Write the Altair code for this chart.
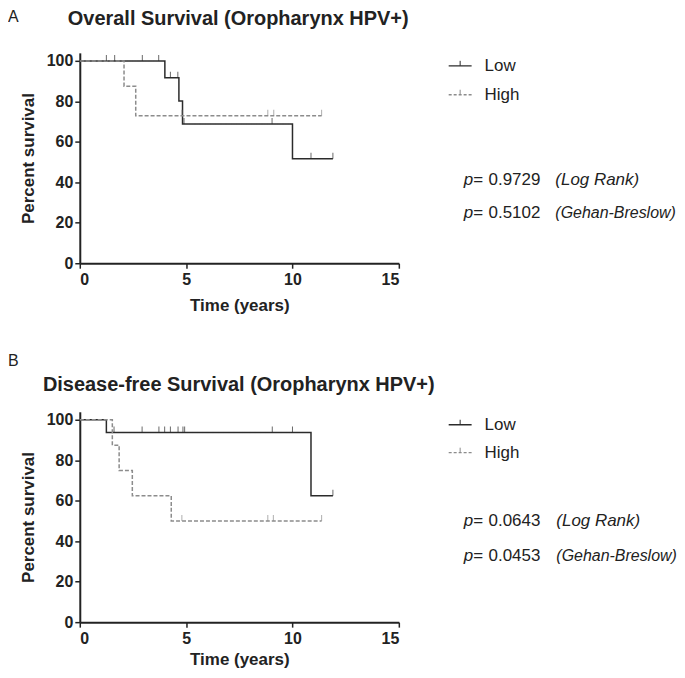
import altair as alt
import pandas as pd

FONT = "Liberation Sans"
INK = "#222222"

# ---------------- Panel A: Overall Survival ----------------
a_low_t = [0, 4.0, 4.66, 4.83, 10.0, 11.9]
a_low_s = [100, 91.7, 80.2, 68.8, 51.6, 51.6]
a_high_t = [0, 2.08, 2.63, 11.37]
a_high_s = [100, 87.5, 72.9, 72.9]
a_low_cens_t = [1.25, 1.64, 2.94, 3.71, 4.26, 4.61, 4.9, 9.04, 10.87, 11.9]
a_low_cens_s = [100, 100, 100, 100, 91.7, 91.7, 68.8, 68.8, 51.6, 51.6]
a_high_cens_t = [4.8, 8.84, 9.12, 11.37]
a_high_cens_s = [72.9, 72.9, 72.9, 72.9]
a_pvals = ["0.9729", "0.5102"]

# ---------------- Panel B: Disease-free Survival ----------------
b_low_t = [0, 1.25, 10.87, 11.9]
b_low_s = [100, 93.75, 62.5, 62.5]
b_high_t = [0, 1.53, 1.85, 2.47, 4.3, 11.37]
b_high_s = [100, 87.5, 75, 62.5, 50, 50]
b_low_cens_t = [1.61, 2.93, 3.72, 3.99, 4.26, 4.62, 4.85, 4.93, 9.05, 10.0, 11.9]
b_low_cens_s = [93.75, 93.75, 93.75, 93.75, 93.75, 93.75, 93.75, 93.75, 93.75, 93.75, 62.5]
b_high_cens_t = [4.8, 8.84, 9.1, 11.37]
b_high_cens_s = [50, 50, 50, 50]
b_pvals = ["0.0643", "0.0453"]

groups = ["Low", "High"]
x_ticks = [0, 5, 10, 15]
y_ticks = [0, 20, 40, 60, 80, 100]
tests = ["(Log Rank)", "(Gehan-Breslow)"]
test_sizes = [17, 16]

W, H = 320, 211
one = pd.DataFrame({"k": [0]})

color_scale = alt.Scale(domain=groups, range=["#2b2b2b", "#8c8c8c"])
dash_scale = alt.Scale(domain=groups, range=[[1, 0], [4, 2]])


def curves_df(lt, ls, ht, hs):
    rows = [{"group": "Low", "t": t, "s": s} for t, s in zip(lt, ls)]
    rows += [{"group": "High", "t": t, "s": s} for t, s in zip(ht, hs)]
    return pd.DataFrame(rows)


def txt(text, x, y, size=17, weight="normal", style="normal", baseline="middle"):
    return alt.Chart(one).mark_text(
        text=text, align="left", baseline=baseline, font=FONT, fontSize=size,
        fontWeight=weight, fontStyle=style, color=INK,
    ).encode(x=alt.value(x), y=alt.value(y))


def panel(letter, title, lt, ls, ht, hs, lct, lcs, hct, hcs, pvals,
          letter_y, title_x, title_y, leg_y, p_y, paren_x, xtitle_pad):
    xs = alt.X("t:Q", scale=alt.Scale(domain=[0, 15], nice=False),
               axis=alt.Axis(values=x_ticks, title="Time (years)", labelPadding=3,
                             titlePadding=xtitle_pad))
    ys = alt.Y("s:Q", scale=alt.Scale(domain=[0, 104], nice=False),
               axis=alt.Axis(values=y_ticks, title="Percent survival", labelPadding=2,
                             titlePadding=9))
    lines = alt.Chart(curves_df(lt, ls, ht, hs)).mark_line(
        interpolate="step-after", strokeWidth=1.5
    ).encode(
        x=xs, y=ys,
        color=alt.Color("group:N", scale=color_scale, legend=None),
        strokeDash=alt.StrokeDash("group:N", scale=dash_scale, legend=None),
    )
    cens = curves_df(lct, lcs, hct, hcs)
    ticks = alt.Chart(cens).mark_tick(
        orient="vertical", size=6, thickness=1, yOffset=-3
    ).encode(
        x="t:Q", y="s:Q",
        color=alt.Color("group:N", scale=color_scale, legend=None),
    )
    layers = [lines, ticks]
    # legend samples
    for i, (g, dash, col) in enumerate(zip(groups, [[1, 0], [3, 2]], ["#2b2b2b", "#8c8c8c"])):
        yy = leg_y[i]
        layers.append(alt.Chart(one).mark_rule(color=col, strokeWidth=1.3, strokeDash=dash)
                      .encode(x=alt.value(370), x2=alt.value(393), y=alt.value(yy)))
        layers.append(alt.Chart(one).mark_rule(color=col, strokeWidth=1)
                      .encode(x=alt.value(381.5), y=alt.value(yy - 5), y2=alt.value(yy)))
        layers.append(txt(g, 406, yy))
    # p values
    for i, pv in enumerate(pvals):
        layers.append(txt("p=", 385, p_y[i], style="italic"))
        layers.append(txt(pv, 410, p_y[i]))
        layers.append(txt(tests[i], paren_x, p_y[i], size=test_sizes[i], style="italic"))
    layers.append(txt(letter, -72, letter_y, size=16, baseline="alphabetic"))
    layers.append(txt(title, title_x, title_y, size=20, weight="bold", baseline="alphabetic"))
    return alt.layer(*layers).properties(width=W, height=H)


pa = panel("A", "Overall Survival (Oropharynx HPV+)",
           a_low_t, a_low_s, a_high_t, a_high_s,
           a_low_cens_t, a_low_cens_s, a_high_cens_t, a_high_cens_s, a_pvals,
           letter_y=-31, title_x=-12, title_y=-28, leg_y=[13, 42], p_y=[128, 161],
           paren_x=477, xtitle_pad=10)
pb = panel("B", "Disease-free Survival (Oropharynx HPV+)",
           b_low_t, b_low_s, b_high_t, b_high_s,
           b_low_cens_t, b_low_cens_s, b_high_cens_t, b_high_cens_s, b_pvals,
           letter_y=-46, title_x=-37, title_y=-21, leg_y=[13, 41], p_y=[110, 145],
           paren_x=478, xtitle_pad=5)

chart = alt.vconcat(pa, pb, spacing=149, bounds="flush", padding=0).configure(
    padding=0
).configure_view(stroke=None).configure_axis(
    domainColor=INK, domainWidth=2, tickColor=INK, tickWidth=1.5, tickSize=5,
    labelFont=FONT, labelFontSize=16, labelFontWeight="bold", labelColor=INK,
    titleFont=FONT, titleFontSize=17, titleFontWeight="bold", titleColor=INK,
    grid=False,
)

chart.save("out.html", embed_options={"renderer": "svg", "actions": False})
